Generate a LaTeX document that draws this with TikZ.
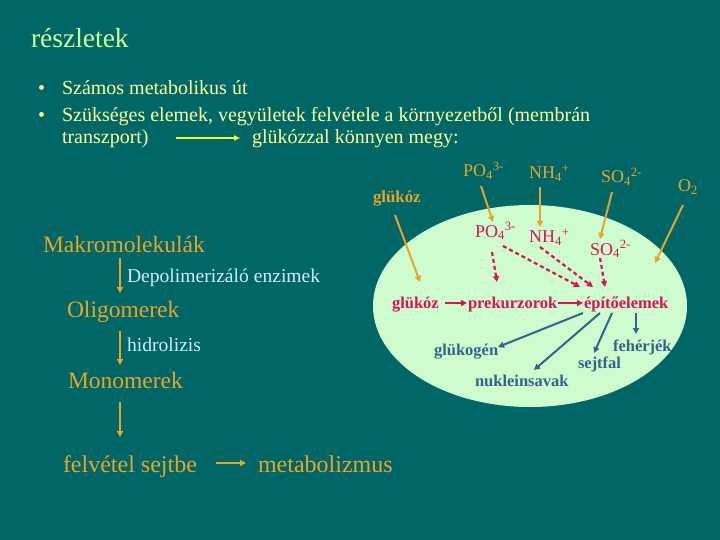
\documentclass[tikz,border=0pt]{standalone}
\usepackage{fontspec}
\setmainfont{Liberation Serif}
\usetikzlibrary{arrows.meta,shapes.geometric}
\definecolor{bgc}{RGB}{0,102,102}
\definecolor{cellc}{RGB}{206,252,206}
\definecolor{orc}{RGB}{228,166,42}
\definecolor{magc}{RGB}{215,20,90}
\definecolor{bluc}{RGB}{50,100,140}
\definecolor{titc}{RGB}{204,255,153}
\definecolor{bulc}{RGB}{255,255,153}
\definecolor{depc}{RGB}{204,236,255}
\definecolor{yarc}{RGB}{240,255,40}
\newcommand{\fs}[1]{\fontsize{#1}{#1}\selectfont}
\newcommand{\chm}[3]{#1\textsubscript{#2}\textsuperscript{#3}}
\begin{document}
\begin{tikzpicture}[x=1pt,y=-1pt,
  lbl/.style={anchor=base west,inner sep=0pt,outer sep=0pt},
  bul/.style={lbl,text=bulc,font=\fs{20}},
  lft/.style={lbl,text=orc,font=\fs{23.5}},
  note/.style={lbl,text=depc,font=\fs{19.6}},
  ochem/.style={lbl,text=orc,font=\fs{18}},
  mchem/.style={lbl,text=magc,font=\fs{18}},
  mrow/.style={lbl,text=magc,font=\bfseries\fs{16.5}},
  brow/.style={lbl,text=bluc,font=\bfseries\fs{16.5}},
  oarr/.style={draw=orc,line width=2pt,-{Triangle[length=6pt,width=6pt]}},
  marr/.style={draw=magc,line width=2pt,-{Triangle[length=6pt,width=6pt]}},
  darr/.style={draw=magc,line width=2.2pt,dash pattern=on 4pt off 3pt,-{Triangle[length=6pt,width=6pt]}},
  barr/.style={draw=bluc,line width=2pt,-{Triangle[length=6pt,width=6pt]}},
  yarr/.style={draw=yarc,line width=1.5pt,-{Triangle[length=6pt,width=5pt]}}]
\fill[bgc] (0,0) rectangle (720,540);
\useasboundingbox (0,0) rectangle (720,540);
% cell
\node[ellipse,fill=cellc,inner sep=0pt,minimum width=314pt,minimum height=202pt] (cell) at (530,306) {};
% title and bullets
\node[lbl,text=titc,font=\fs{27.5}] (title) at (31,48) {részletek};
\node[bul] (b1) at (38,95) {•};
\node[bul] (t1) at (62,95) {Számos metabolikus út};
\node[bul] (b2) at (38,122) {•};
\node[bul] (t2) at (62,122) {Szükséges elemek, vegyületek felvétele a környezetből (membrán};
\node[bul] (t3) at (62,144) {transzport)};
\node[bul] (t3b) at (252,144) {glükózzal könnyen megy:};
\draw[yarr] ([shift={(114,-6)}]t3.base west) -- ([shift={(-12,-6)}]t3b.base west);
% left column
\node[lft] (mak) at (43,252) {Makromolekulák};
\node[note] (depo) at (127,282) {Depolimerizáló enzimek};
\node[lft] (oli) at (67,317) {Oligomerek};
\node[note] (hidro) at (127,351) {hidrolizis};
\node[lft] (mono) at (68,388) {Monomerek};
\node[lft,font=\fs{24}] (felv) at (63,472) {felvétel sejtbe};
\node[lft,font=\fs{24}] (meta) at (258,472) {metabolizmus};
\draw[oarr] ([shift={(77,6)}]mak.base west) -- ([shift={(53,-24)}]oli.base west);
\draw[oarr] ([shift={(53,14)}]oli.base west) -- ([shift={(52,-23)}]mono.base west);
\draw[oarr] ([shift={(52,14)}]mono.base west) -- ([shift={(57,-35)}]felv.base west);
\draw[oarr] ([shift={(153,-9)}]felv.base west) -- ([shift={(-12,-9)}]meta.base west);
% outside substances
\node[ochem] (pou) at (463,177) {\chm{PO}{4}{3-}};
\node[ochem] (nhu) at (529,179) {\chm{NH}{4}{+}};
\node[ochem] (sou) at (601,183) {\chm{SO}{4}{2-}};
\node[ochem] (o2) at (678,192) {O\textsubscript{2}};
\node[lbl,text=orc,font=\bfseries\fs{16.8}] (go) at (373,203) {glükóz};
\coordinate (o2end) at (655,263);
% inside substances
\node[mchem] (poi) at (475,237) {\chm{PO}{4}{3-}};
\node[mchem] (nhi) at (529,243) {\chm{NH}{4}{+}};
\node[mchem] (soi) at (590,255) {\chm{SO}{4}{2-}};
\node[mrow] (gi) at (392,308) {glükóz};
\node[mrow] (prek) at (468,308) {prekurzorok};
\node[mrow] (epit) at (584,308) {építőelemek};
\node[brow] (glg) at (434,355) {glükogén};
\node[brow] (feh) at (613,351) {fehérjék};
\node[brow] (sejt) at (578,368) {sejtfal};
\node[brow] (nuk) at (475,386) {nukleinsavak};
% uptake arrows
\draw[oarr] ([shift={(18,9)}]pou.base west) -- ([shift={(18,-15)}]poi.base west);
\draw[oarr] ([shift={(11,8)}]nhu.base west) -- ([shift={(11,-16)}]nhi.base west);
\draw[oarr] ([shift={(11,9)}]sou.base west) -- ([shift={(10,-16)}]soi.base west);
\draw[oarr] ([shift={(5,13)}]o2.base west) -- (o2end);
\draw[oarr] ([shift={(22,12)}]go.base west) -- ([shift={(28,-26)}]gi.base west);
% dashed
\draw[darr] ([shift={(17,15)}]poi.base west) -- ([shift={(29,-26)}]prek.base west);
\draw[darr] ([shift={(28,9)}]poi.base west) -- ([shift={(-4,-21)}]epit.base west);
\draw[darr] ([shift={(11,4)}]nhi.base west) -- ([shift={(9,-21)}]epit.base west);
\draw[darr] ([shift={(10,3)}]soi.base west) -- ([shift={(21,-21)}]epit.base west);
% row
\draw[marr] ([shift={(53,-5)}]gi.base west) -- ([shift={(-1,-5)}]prek.base west);
\draw[marr] ([shift={(90,-5)}]prek.base west) -- ([shift={(-1,-5)}]epit.base west);
% products
\draw[barr] ([shift={(-1,5)}]epit.base west) -- ([shift={(64,-8)}]glg.base west);
\draw[barr] ([shift={(16,5)}]epit.base west) -- ([shift={(59,-16)}]nuk.base west);
\draw[barr] ([shift={(28,5)}]epit.base west) -- ([shift={(16,-15)}]sejt.base west);
\draw[barr] ([shift={(52,5)}]epit.base west) -- ([shift={(23,-17)}]feh.base west);
\end{tikzpicture}
\end{document}
